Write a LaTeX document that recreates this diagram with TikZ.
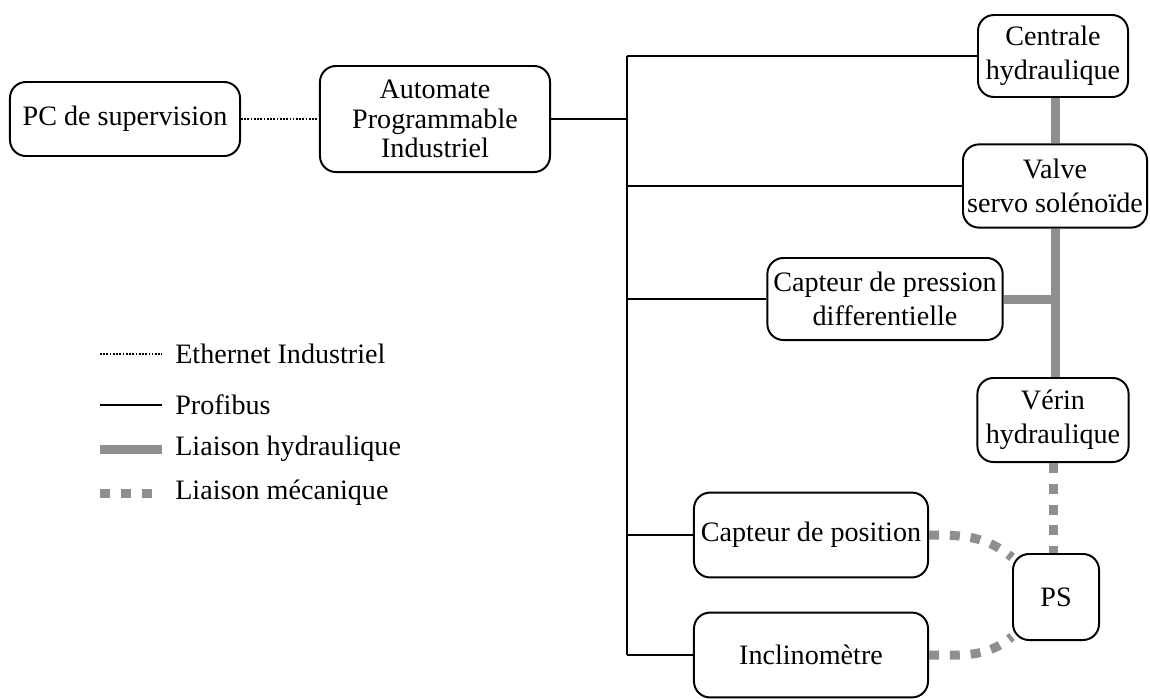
\documentclass[tikz,border=0pt]{standalone}
\usepackage{fontspec}
\setmainfont{Liberation Serif}
\definecolor{liaison}{RGB}{143,143,143}
\begin{document}
\begin{tikzpicture}[x=0.025cm,y=-0.025cm,
  bloc/.style={draw,line width=1.4pt,rounded corners=0.4cm,align=center,inner sep=0pt,
    font=\fontsize{20}{24}\selectfont},
  bus/.style={line width=1.4pt},
  ether/.style={line width=1.2pt,dash pattern=on 1.2pt off 1.1pt},
  hydro/.style={line width=0.225cm,draw=liaison},
  meca/.style={hydro,dash pattern=on 0.25cm off 0.27cm},
  legende/.style={anchor=west,inner sep=0pt,font=\fontsize{20}{24}\selectfont}]
  \useasboundingbox (0,0) rectangle (1150,698);
  % Supervision
  \node[bloc,minimum width=5.75cm,minimum height=1.85cm] (pc) at (125,119) {PC de supervision};
  \node[bloc,minimum width=5.75cm,minimum height=2.65cm,font=\fontsize{20}{20.8}\selectfont] (api) at (435,119) {Automate\\Programmable\\Industriel};
  \draw[ether] (pc) -- (api);
  % Equipements
  \node[bloc,minimum width=3.75cm,minimum height=2.05cm] (centrale) at (1053,56) {Centrale\\hydraulique};
  \node[bloc,minimum width=4.6cm,minimum height=2.08cm] (valve) at (1055,186) {Valve\\servo solénoïde};
  \node[bloc,minimum width=5.88cm,minimum height=2.05cm] (pression) at (885,299) {Capteur de pression\\differentielle};
  \node[bloc,minimum width=3.78cm,minimum height=2.1cm] (verin) at (1053,420) {Vérin\\hydraulique};
  \node[bloc,minimum width=5.85cm,minimum height=2.12cm] (position) at (811,535) {Capteur de position};
  \node[bloc,minimum width=5.85cm,minimum height=2.12cm] (inclino) at (811,655) {Inclinomètre};
  \node[bloc,minimum width=2.15cm,minimum height=2.15cm] (ps) at (1056,597) {PS};
  % Profibus
  \coordinate (bushaut) at (627,56);
  \coordinate (busbas) at (627,655);
  \draw[bus] (bushaut) -- (busbas);
  \draw[bus] (api.east) -- (api.east -| bushaut);
  \foreach \n in {centrale,valve,pression,position,inclino}
    \draw[bus] (\n.west -| bushaut) -- (\n.west);
  % Hydraulique
  \draw[hydro] (centrale.south -| valve.north) -- (valve.north);
  \draw[hydro] (valve.south) -- (valve.south |- verin.north);
  \draw[hydro] (pression.east) -- (pression.east -| valve.south);
  % Mecanique
  \draw[meca] (verin.south) -- (verin.south |- ps.north);
  \draw[meca] (position.east) to[out=0,in=140] (ps.138);
  \draw[meca] (inclino.east) to[out=0,in=-140] (ps.-138);
  % Legende
  \node[legende] (leth) at (175,354) {Ethernet Industriel};
  \node[legende] (lpro) at (175,405) {Profibus};
  \node[legende] (lhyd) at (175,449) {Liaison hydraulique};
  \node[legende] (lmec) at (175,493) {Liaison mécanique};
  \coordinate (deth) at (100,354);
  \coordinate (dpro) at (100,405);
  \coordinate (dhyd) at (100,449);
  \coordinate (dmec) at (100,493);
  \draw[ether] (deth) -- ([xshift=-0.325cm]leth.west);
  \draw[bus] (dpro) -- ([xshift=-0.325cm]lpro.west);
  \draw[hydro] (dhyd) -- ([xshift=-0.325cm]lhyd.west);
  \draw[meca] (dmec) -- ([xshift=-0.325cm]lmec.west);
\end{tikzpicture}
\end{document}
